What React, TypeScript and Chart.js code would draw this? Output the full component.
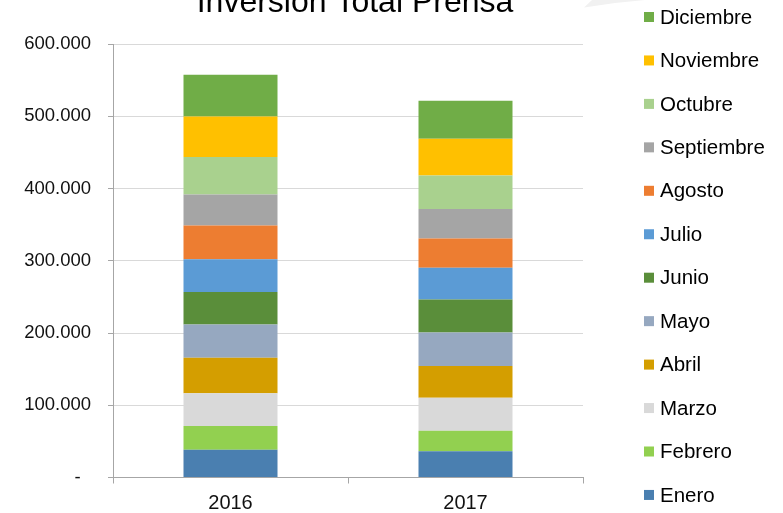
import React, { useEffect, useRef } from "react";
import { Chart, registerables } from "chart.js";

Chart.register(...registerables);

const categories = ["2016", "2017"];
const enero = [38500, 36300];
const febrero = [32800, 28500];
const marzo = [45300, 45700];
const abril = [49300, 43900];
const mayo = [45700, 46200];
const junio = [45300, 45700];
const julio = [45300, 43900];
const agosto = [46600, 40500];
const septiembre = [42900, 40800];
const octubre = [51800, 46500];
const noviembre = [56200, 50800];
const diciembre = [57800, 52700];

const seriesNames = [
  "Enero", "Febrero", "Marzo", "Abril", "Mayo", "Junio",
  "Julio", "Agosto", "Septiembre", "Octubre", "Noviembre", "Diciembre",
];
const seriesValues = [
  enero, febrero, marzo, abril, mayo, junio,
  julio, agosto, septiembre, octubre, noviembre, diciembre,
];
const seriesColors = [
  "#4a7fb0", "#92d050", "#d9d9d9", "#d49e00", "#96a8c0", "#5a8e3a",
  "#5b9bd5", "#ed7d31", "#a5a5a5", "#a9d18e", "#ffc000", "#70ad47",
];
const yTickLabels = ["-  ", "100.000", "200.000", "300.000", "400.000", "500.000", "600.000"];
const titleText = "Inversión Total Prensa";

const FONT = "'Liberation Sans', Arial, sans-serif";

const extrasPlugin = {
  id: "extras",
  afterDraw(chart: any) {
    const ctx = chart.ctx as CanvasRenderingContext2D;
    ctx.save();
    // faint decorative wedge at top
    ctx.fillStyle = "#f1f1f1";
    ctx.beginPath();
    ctx.moveTo(584, 7.5);
    ctx.lineTo(592, 0);
    ctx.lineTo(645, 0);
    ctx.lineTo(615, 3);
    ctx.closePath();
    ctx.fill();
    // title
    ctx.fillStyle = "#000";
    ctx.font = `32px ${FONT}`;
    ctx.textAlign = "center";
    ctx.textBaseline = "alphabetic";
    ctx.fillText(titleText, 355, 12);
    // legend (reversed order)
    ctx.font = `20.5px ${FONT}`;
    ctx.textAlign = "left";
    ctx.textBaseline = "middle";
    const n = chart.data.datasets.length;
    for (let k = 0; k < n; k++) {
      const ds = chart.data.datasets[n - 1 - k];
      const cy = 17 + k * 43.45;
      ctx.fillStyle = ds.backgroundColor;
      ctx.fillRect(644, cy - 5, 10, 10);
      ctx.fillStyle = "#000";
      ctx.fillText(ds.label, 660, cy + 1);
    }
    ctx.restore();
  },
};

export default function App() {
  const ref = useRef<HTMLCanvasElement | null>(null);
  useEffect(() => {
    document.body.style.margin = "0";
    const canvas = ref.current!;
    const chart = new Chart(canvas, {
      type: "bar",
      data: {
        labels: categories,
        datasets: seriesNames.map((name, i) => ({
          label: name,
          data: seriesValues[i],
          backgroundColor: seriesColors[i],
          borderWidth: 0,
          categoryPercentage: 1,
          barPercentage: 0.4,
        })),
      },
      options: {
        animation: false,
        responsive: false,
        layout: { padding: { left: 0, right: 200, top: 44, bottom: 0 } },
        plugins: {
          legend: { display: false },
          title: { display: false },
          tooltip: { enabled: false },
        },
        scales: {
          x: {
            stacked: true,
            offset: true,
            grid: {
              offset: true,
              drawOnChartArea: false,
              tickLength: 6,
              color: "#a6a6a6",
            },
            border: { color: "#a6a6a6", width: 1 },
            ticks: {
              font: { family: FONT, size: 20 },
              color: "#111",
              padding: 8,
            },
            afterFit: (s: any) => {
              s.height = 35.5;
            },
          },
          y: {
            stacked: true,
            min: 0,
            max: 600000,
            ticks: {
              stepSize: 100000,
              font: { family: FONT, size: 18.5 },
              color: "#111",
              padding: 17,
              callback: (_v: any, i: number) => yTickLabels[i],
            },
            grid: {
              color: "#d9d9d9",
              tickColor: "#a6a6a6",
              tickLength: 5,
            },
            border: { color: "#a6a6a6", width: 1 },
            afterFit: (s: any) => {
              s.width = 113;
            },
          },
        },
      },
      plugins: [extrasPlugin],
    });
    return () => chart.destroy();
  }, []);
  return (
    <div style={{ width: 783, height: 513, position: "relative", background: "#fff" }}>
      <canvas ref={ref} width={783} height={513} />
    </div>
  );
}
